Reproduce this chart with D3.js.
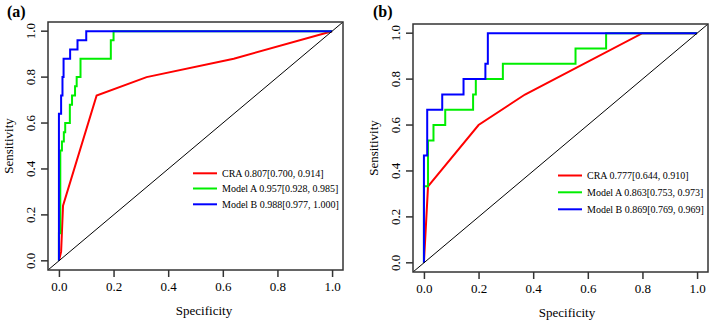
<!DOCTYPE html>
<html>
<head>
<meta charset="utf-8" />
<title>ROC curves</title>
<script src="https://cdn.jsdelivr.net/npm/d3@7/dist/d3.min.js"></script>
<style>
    body { margin: 0; background: #fff; }
    text { font-family: "Liberation Serif", "Times New Roman", serif; fill: #000; }
</style>
</head>
<body>
<script>

    // tick values, both axes
    var ticks = [0, 0.2, 0.4, 0.6, 0.8, 1.0];
    var names = ['CRA', 'Model A', 'Model B'];

    // panel (a) : [x, y] points
    var aCRA = [[0,0],[0.008,0.04],[0.015,0.24],[0.138,0.72],[0.321,0.80],[0.64,0.88],[1,1]];
    var aModelA = [[0,0],[0,0.12],[0.005,0.12],[0.005,0.48],[0.011,0.48],[0.011,0.52],[0.018,0.52],[0.018,0.56],
        [0.023,0.56],[0.023,0.60],[0.04,0.60],[0.04,0.68],[0.048,0.68],[0.048,0.72],[0.059,0.72],[0.059,0.76],
        [0.065,0.76],[0.065,0.80],[0.079,0.80],[0.079,0.88],[0.19,0.88],[0.19,0.96],[0.2,0.96],[0.2,1],[1,1]];
    var aModelB = [[0,0],[0,0.64],[0.008,0.64],[0.008,0.72],[0.013,0.72],[0.013,0.80],[0.017,0.80],[0.017,0.88],
        [0.041,0.88],[0.041,0.92],[0.068,0.92],[0.068,0.96],[0.10,0.96],[0.10,1],[1,1]];
    var aLegend = ['CRA 0.807[0.700, 0.914]', 'Model A 0.957[0.928, 0.985]', 'Model B 0.988[0.977, 1.000]'];

    // panel (b)
    var bCRA = [[0,0],[0.015,0.333],[0.2,0.6],[0.37,0.733],[0.8,1],[1,1]];
    var bModelA = [[0,0],[0,0.333],[0.015,0.333],[0.015,0.533],[0.035,0.533],[0.035,0.60],[0.078,0.60],[0.078,0.667],
        [0.18,0.667],[0.18,0.733],[0.19,0.733],[0.19,0.80],[0.289,0.80],[0.289,0.867],[0.555,0.867],[0.555,0.933],
        [0.667,0.933],[0.667,1],[1,1]];
    var bModelB = [[0,0],[0,0.467],[0.012,0.467],[0.012,0.667],[0.067,0.667],[0.067,0.733],[0.145,0.733],[0.145,0.80],
        [0.225,0.80],[0.225,0.867],[0.234,0.867],[0.234,1],[1,1]];
    var bLegend = ['CRA 0.777[0.644, 0.910]', 'Model A 0.863[0.753, 0.973]', 'Model B 0.869[0.769, 0.969]'];

    var colors = ['#ff0000', '#00ee00', '#0000ff'];

    var width = 709, height = 320;
    var svg = d3.select('body').append('svg').attr('width', width).attr('height', height);

    function drawPanel(opt) {
        // R-style 4% padding around [0,1]
        var x = d3.scaleLinear().domain([-0.04, 1.04]).range([opt.left, opt.right]);
        var y = d3.scaleLinear().domain([-0.04, 1.04]).range([opt.bottom, opt.top]);
        var g = svg.append('g');

        var clipId = 'clip' + opt.tag;
        g.append('clipPath').attr('id', clipId).append('rect')
            .attr('x', opt.left).attr('y', opt.top)
            .attr('width', opt.right - opt.left).attr('height', opt.bottom - opt.top);

        var line = d3.line().x(function(d){ return x(d[0]); }).y(function(d){ return y(d[1]); });

        opt.series.forEach(function(s, i){
            g.append('path').datum(s)
                .attr('d', line)
                .attr('fill', 'none')
                .attr('stroke', colors[i])
                .attr('stroke-width', 2)
                .attr('stroke-linejoin', 'miter');
        });

        // diagonal reference line
        g.append('line')
            .attr('clip-path', 'url(#' + clipId + ')')
            .attr('x1', x(-0.04)).attr('y1', y(-0.04))
            .attr('x2', x(1.04)).attr('y2', y(1.04))
            .attr('stroke', '#000').attr('stroke-width', 1);

        // box
        g.append('rect')
            .attr('x', opt.left).attr('y', opt.top)
            .attr('width', opt.right - opt.left).attr('height', opt.bottom - opt.top)
            .attr('fill', 'none').attr('stroke', '#333').attr('stroke-width', 1.5);

        var xAxis = d3.axisBottom(x).tickValues(ticks).tickFormat(d3.format('.1f')).tickSize(7).tickPadding(5);
        var gx = g.append('g').attr('transform', 'translate(0,' + opt.bottom + ')').call(xAxis);
        gx.select('.domain').remove();
        gx.selectAll('line').attr('stroke', '#333').attr('stroke-width', 1.5);
        gx.selectAll('text').attr('font-size', 13).attr('font-family', '"Liberation Serif", serif');

        var yAxis = d3.axisLeft(y).tickValues(ticks).tickFormat(d3.format('.1f')).tickSize(7);
        var gy = g.append('g').attr('transform', 'translate(' + opt.left + ',0)').call(yAxis);
        gy.select('.domain').remove();
        gy.selectAll('line').attr('stroke', '#333').attr('stroke-width', 1.5);
        gy.selectAll('text')
            .attr('font-size', 13).attr('font-family', '"Liberation Serif", serif')
            .attr('text-anchor', 'middle')
            .attr('x', null).attr('dy', null)
            .attr('transform', function(d){ return 'translate(-18,' + y(d) + ') rotate(-90)'; })
            .attr('y', 4.5);
        gy.selectAll('.tick').attr('transform', 'translate(0,0)');
        gy.selectAll('.tick line').attr('transform', function(d){ return 'translate(0,' + y(d) + ')'; });

        // axis titles
        g.append('text').attr('x', opt.xTitleX).attr('y', opt.bottom + 45)
            .attr('text-anchor', 'middle').attr('font-size', 13).text('Specificity');
        g.append('text')
            .attr('transform', 'translate(' + (opt.left - 35) + ',' + ((opt.top + opt.bottom) / 2) + ') rotate(-90)')
            .attr('text-anchor', 'middle').attr('font-size', 13).text('Sensitivity');

        // panel tag
        g.append('text').attr('x', opt.tagX).attr('y', 17)
            .attr('font-size', 16).attr('font-weight', 'bold').text('(' + opt.tag + ')');

        // legend
        opt.legend.forEach(function(t, i){
            var ly = opt.legY[i];
            g.append('line').attr('x1', opt.legX).attr('x2', opt.legX + 24)
                .attr('y1', ly).attr('y2', ly)
                .attr('stroke', colors[i]).attr('stroke-width', 2);
            g.append('text').attr('x', opt.legX + 29).attr('y', ly).attr('dy', '0.35em')
                .attr('font-size', 10).text(t);
        });
    }

    drawPanel({ tag: 'a', left: 48, right: 343, top: 22, bottom: 270, tagX: 7, xTitleX: 204,
        series: [aCRA, aModelA, aModelB], legend: aLegend, legX: 193, legY: [173.3, 188.5, 204.3] });
    drawPanel({ tag: 'b', left: 413, right: 708, top: 24, bottom: 272, tagX: 373, xTitleX: 567,
        series: [bCRA, bModelA, bModelB], legend: bLegend, legX: 558, legY: [175.5, 192.3, 209.3] });

</script>
</body>
</html>
